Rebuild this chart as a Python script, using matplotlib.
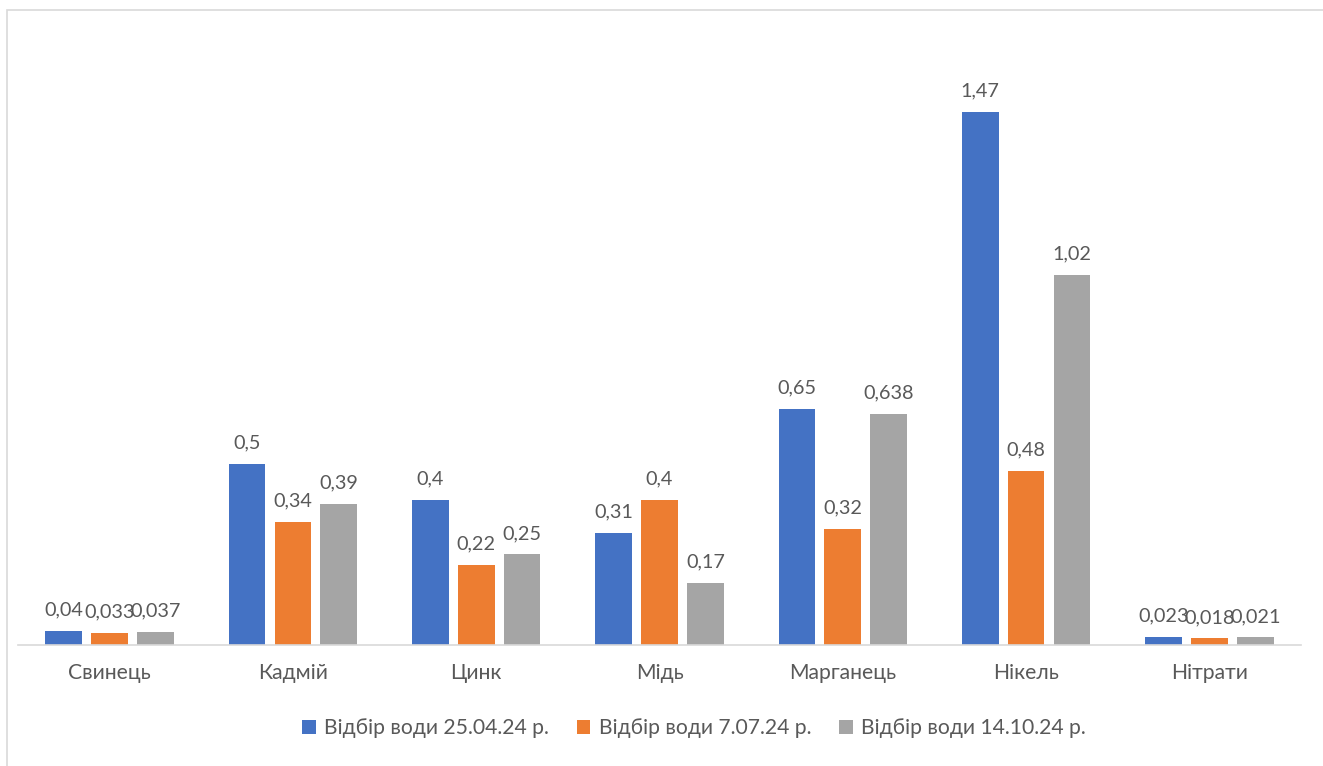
import matplotlib.pyplot as plt
import numpy as np
from matplotlib.patches import Rectangle

categories = ["Свинець", "Кадмій", "Цинк", "Мідь", "Марганець", "Нікель", "Нітрати"]
series_names = [
    "Відбір води 25.04.24 р.",
    "Відбір води 7.07.24 р.",
    "Відбір води 14.10.24 р.",
]
april = [0.04, 0.5, 0.4, 0.31, 0.65, 1.47, 0.023]
july = [0.033, 0.34, 0.22, 0.4, 0.32, 0.48, 0.018]
october = [0.037, 0.39, 0.25, 0.17, 0.638, 1.02, 0.021]

colors = ["#4472C4", "#ED7D31", "#A5A5A5"]
text_color = "#595959"

plt.rcParams["font.family"] = ["Lato", "DejaVu Sans"]
fs = 15.2
label_fs = 14.3

W, H = 1323, 766
fig = plt.figure(figsize=(W / 100, H / 100), dpi=100)
ax = fig.add_axes([18 / W, 121 / H, 1283 / W, 580 / H])

x = np.arange(len(categories))
step = 0.25
width = 0.2
for i, (vals, name, c) in enumerate(zip([april, july, october], series_names, colors)):
    bars = ax.bar(x + (i - 1) * step, vals, width, color=c, label=name)
    labels = [str(v).replace(".", ",") for v in vals]
    ax.bar_label(bars, labels=labels, padding=9, fontsize=label_fs, color=text_color)

ax.set_xlim(-0.5, len(categories) - 0.5)
ax.set_ylim(0, 1.6)
ax.set_xticks(x)
ax.set_xticklabels(categories, fontsize=fs, color=text_color)
ax.tick_params(axis="x", length=0, pad=13)
ax.set_yticks([])
for s in ["top", "right", "left"]:
    ax.spines[s].set_visible(False)
ax.spines["bottom"].set_color("#D9D9D9")
ax.spines["bottom"].set_linewidth(1.2)

fig.legend(
    loc="center", bbox_to_anchor=(694 / W, 1 - 728 / H), ncol=3, frameon=False,
    fontsize=fs, labelcolor=text_color, handlelength=0.65, handleheight=0.65,
    handletextpad=0.4, columnspacing=1.3,
)

# outer chart frame
fig.patches.append(Rectangle((7 / W, -0.1), 1.2, 1 - 10 / H + 0.1,
                             transform=fig.transFigure, fill=False,
                             edgecolor="#D9D9D9", linewidth=1.2))

fig.savefig("out.png", dpi=100)
